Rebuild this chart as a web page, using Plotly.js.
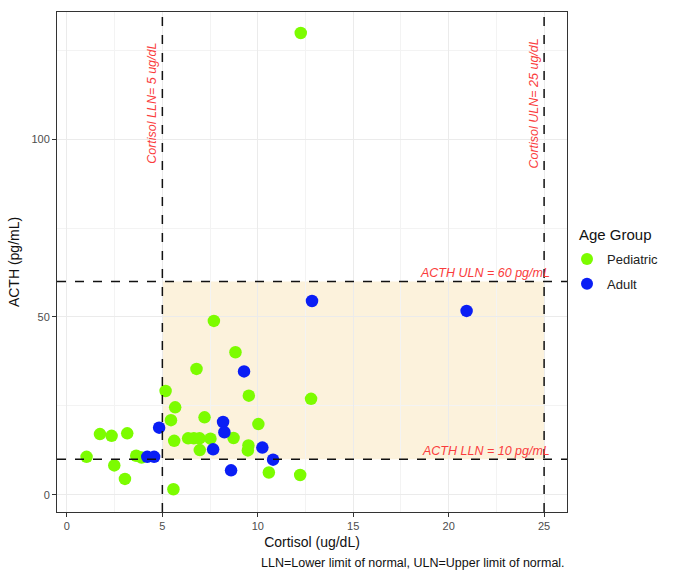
<!DOCTYPE html>
<html>
<head>
<meta charset="utf-8">
<script src="https://cdn.plot.ly/plotly-3.0.1.min.js"></script>
<style>html,body{margin:0;padding:0;background:#fff}#chart{width:684px;height:570px}</style>
</head>
<body>
<div id="chart"></div>
<script>
const pediatricCortisol = [8.83, 6.79, 5.17, 9.53, 12.79, 5.67, 5.45, 7.21, 10.03, 1.73, 2.34, 3.16, 5.62, 6.35, 6.65, 6.95, 7.52, 8.73, 6.96, 9.51, 9.48, 1.03, 3.63, 3.91, 2.48, 3.04, 10.58, 12.22, 5.58, 12.25, 7.7];
const pediatricACTH    = [40.1, 35.4, 29.2, 27.9, 27.0, 24.6, 21.0, 21.8, 19.9, 17.1, 16.6, 17.3, 15.2, 15.9, 15.9, 15.9, 15.8, 16.0, 12.6, 13.9, 12.5, 10.7, 11.0, 10.5, 8.3, 4.5, 6.3, 5.6, 1.6, 129.8, 48.9];
const adultCortisol = [9.28, 8.18, 8.25, 4.83, 10.24, 7.66, 4.21, 4.57, 10.8, 8.6, 12.84, 20.94];
const adultACTH     = [34.7, 20.5, 17.6, 18.9, 13.3, 12.8, 10.7, 10.7, 9.9, 6.9, 54.5, 51.7];
const cortisolLLN = 5, cortisolULN = 25, acthLLN = 10, acthULN = 60;
const xTicks = [0, 5, 10, 15, 20, 25];
const yTicks = [0, 50, 100];

const FONT = 'Liberation Sans, Arial, sans-serif';
const red = 'rgb(250,60,60)';

const traces = [
  {x: pediatricCortisol, y: pediatricACTH, name: 'Pediatric', type: 'scatter', mode: 'markers',
   legendgroup: 'p', marker: {color: '#7CFC00', size: 12.5}},
  {x: adultCortisol, y: adultACTH, name: 'Adult', type: 'scatter', mode: 'markers',
   legendgroup: 'a', marker: {color: '#0A1EF5', size: 12.5}}
];

const dash = {color: '#111', width: 1.5, dash: 'dash'};
const layout = {
  width: 684, height: 570,
  margin: {l: 57, r: 117, t: 12, b: 58},
  paper_bgcolor: '#fff', plot_bgcolor: '#fff',
  font: {family: FONT, color: '#222'},
  xaxis: {range: [-0.52, 26.2], tickvals: xTicks, ticktext: xTicks.map(String),
          showgrid: true, gridcolor: '#ebebeb', zeroline: false,
          minor: {tickvals: [2.5, 7.5, 12.5, 17.5, 22.5], showgrid: true, gridcolor: '#f3f3f3'},
          ticks: 'outside', ticklen: 4, tickcolor: '#333', tickfont: {size: 11, color: '#4d4d4d'},
          showline: true, linecolor: '#333', mirror: true, linewidth: 1,
          title: {text: 'Cortisol (ug/dL)', font: {size: 14, color: '#111'}, standoff: 5}},
  yaxis: {range: [-4.8, 135.7], tickvals: yTicks, ticktext: yTicks.map(String),
          showgrid: true, gridcolor: '#ebebeb', zeroline: false,
          minor: {tickvals: [25, 75, 125], showgrid: true, gridcolor: '#f3f3f3'},
          ticks: 'outside', ticklen: 4, tickcolor: '#333', tickfont: {size: 11, color: '#4d4d4d'},
          showline: true, linecolor: '#333', mirror: true, linewidth: 1,
          title: {text: 'ACTH (pg/mL)', font: {size: 14, color: '#111'}, standoff: 8}},
  legend: {x: 1.0, y: 0.536, xanchor: 'left', yanchor: 'top', traceorder: 'grouped',
           bgcolor: 'rgba(0,0,0,0)',
           font: {size: 13, color: '#222'}, itemsizing: 'constant', tracegroupgap: 5},
  shapes: [
    {type: 'rect', xref: 'x', yref: 'y', x0: cortisolLLN, x1: cortisolULN, y0: acthLLN, y1: acthULN,
     fillcolor: '#FCF2DC', line: {width: 0}, layer: 'below'},
    {type: 'line', xref: 'x', yref: 'paper', x0: cortisolLLN, x1: cortisolLLN, y0: 0, y1: 1, line: dash},
    {type: 'line', xref: 'x', yref: 'paper', x0: cortisolULN, x1: cortisolULN, y0: 0, y1: 1, line: dash},
    {type: 'line', xref: 'paper', yref: 'y', x0: 0, x1: 1, y0: acthLLN, y1: acthLLN, line: dash},
    {type: 'line', xref: 'paper', yref: 'y', x0: 0, x1: 1, y0: acthULN, y1: acthULN, line: dash}
  ],
  annotations: [
    {x: 1.0196, y: 0.554, xref: 'paper', yref: 'paper', text: 'Age Group', showarrow: false,
     xanchor: 'left', yanchor: 'middle', font: {size: 15, color: '#111'}},
    {x: cortisolLLN, y: 110, xref: 'x', yref: 'y', text: '<i>Cortisol LLN= 5 ug/dL</i>', textangle: -90,
     showarrow: false, xanchor: 'right', xshift: -1, font: {size: 12.5, color: red}},
    {x: cortisolULN, y: 110, xref: 'x', yref: 'y', text: '<i>Cortisol ULN= 25 ug/dL</i>', textangle: -90,
     showarrow: false, xanchor: 'right', xshift: -1, font: {size: 12.5, color: red}},
    {x: cortisolULN, y: acthULN, xref: 'x', yref: 'y', text: '<i>ACTH ULN = 60 pg/mL</i>',
     showarrow: false, xanchor: 'right', yanchor: 'bottom', xshift: 8, yshift: -1, font: {size: 12.5, color: red}},
    {x: cortisolULN, y: acthLLN, xref: 'x', yref: 'y', text: '<i>ACTH LLN = 10 pg/mL</i>',
     showarrow: false, xanchor: 'right', yanchor: 'bottom', xshift: 8, yshift: -1, font: {size: 12.5, color: red}},
    {x: 1, y: 0, xref: 'paper', yref: 'paper', text: 'LLN=Lower limit of normal, ULN=Upper limit of normal.',
     showarrow: false, xanchor: 'right', yanchor: 'top', yshift: -42, font: {size: 12.5, color: '#111'}}
  ]
};

Plotly.newPlot('chart', traces, layout, {displayModeBar: false, staticPlot: true});
</script>
</body>
</html>
